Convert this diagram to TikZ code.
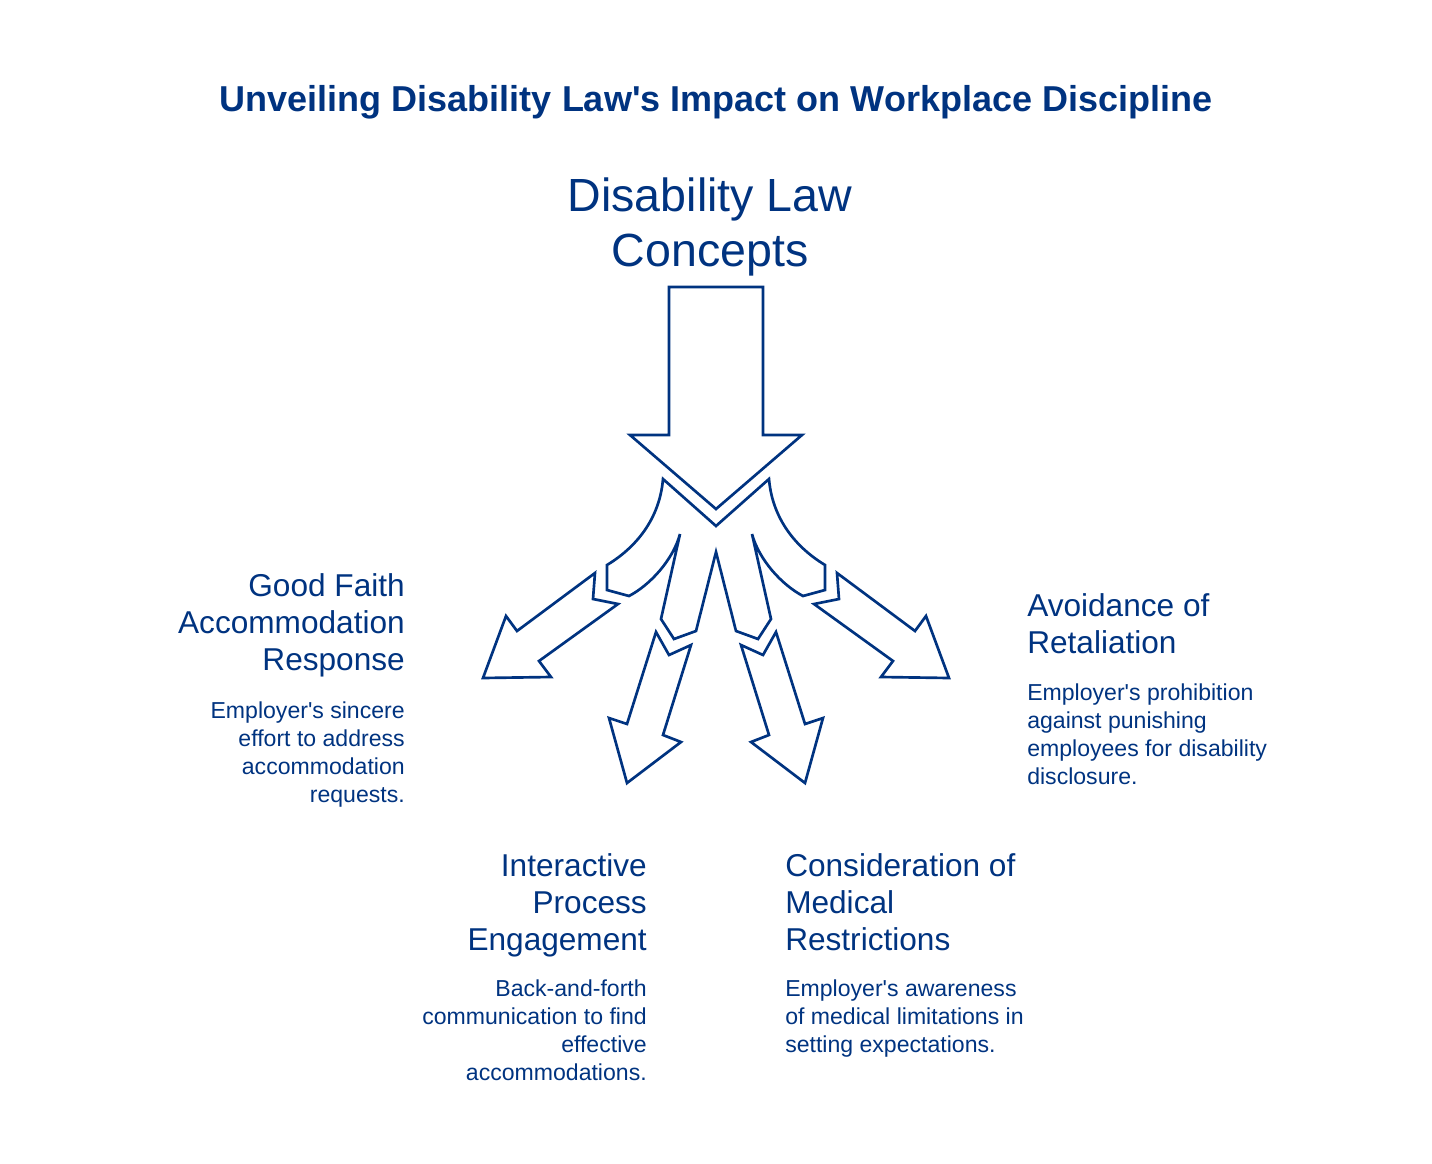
\documentclass[tikz,border=0pt]{standalone}
\usepackage{fontspec}
\setmainfont{Liberation Sans}
\usetikzlibrary{positioning}
\usetikzlibrary{calc}
\definecolor{lawblue}{RGB}{0,51,128}
\newcommand{\apos}{\textquotesingle}

\begin{document}
\begin{tikzpicture}[
    x=0.75pt, y=-0.75pt,
    shape line/.style={draw=lawblue, line width=2pt, line join=miter},
    heading/.style={inner sep=0, text=lawblue, font=\fontsize{23.7}{27.75}\selectfont},
    desc/.style={inner sep=0, text=lawblue, font=\fontsize{17.3}{21}\selectfont}
]
    \useasboundingbox (0,0) rectangle (1432,1164);

    % Titles
    \node[inner sep=0, anchor=base, text=lawblue, font=\fontsize{27}{32}\selectfont\bfseries] (T1) at (716,111) {Unveiling Disability Law\apos s Impact on Workplace Discipline};
    \node[inner sep=0, anchor=north, align=center, text=lawblue, font=\fontsize{34.9}{41.25}\selectfont] (T2) at (710,178) {Disability Law\\Concepts};

    % Top arrow
    \draw[shape line] (669,287) -- (763,287) -- (763,435) -- (802,435) -- (716,509) -- (630,435) -- (669,435) -- cycle;

    % Splitter
    \draw[shape line] (663,479) -- (716,526) -- (769,479)
        .. controls (772,515) and (792,545) .. (825,565) -- (825,590) -- (803,596)
        .. controls (782,585) and (759,560) .. (752,534) -- (771,619) -- (758,639) -- (736,631)
        -- (716,552) -- (696,631) -- (674,639) -- (661,619) -- (680,534)
        .. controls (673,560) and (650,585) .. (629,596) -- (607,590) -- (607,565)
        .. controls (640,545) and (660,515) .. (663,479) -- cycle;

    % Outgoing arrows
    \draw[shape line] (595,573) -- (593,599) -- (618,604) -- (539,661) -- (551,677) -- (483,678) -- (506,616) -- (517,631) -- cycle;
    \draw[shape line] (656,632) -- (669,655) -- (691,645) -- (663,735) -- (681,742) -- (627,783) -- (609,718) -- (627,724) -- cycle;
    \draw[shape line] (776,632) -- (763,655) -- (741,645) -- (769,735) -- (751,742) -- (805,783) -- (823,718) -- (805,724) -- cycle;
    \draw[shape line] (837,573) -- (839,599) -- (814,604) -- (893,661) -- (881,677) -- (949,678) -- (926,616) -- (915,631) -- cycle;

    % Good faith
    \node[heading, anchor=north east, align=right] (H1) at (405,573) {Good Faith\\Accommodation\\Response};
    \node[desc, anchor=north east, align=right] (D1) at (405,702) {Employer\apos s sincere\\effort to address\\accommodation\\requests.};

    % Interactive process
    \node[heading, anchor=north east, align=right] (H2) at (647,853) {Interactive\\Process\\Engagement};
    \node[desc, anchor=north east, align=right] (D2) at (647,980) {Back-and-forth\\communication to find\\effective\\accommodations.};

    % Medical restrictions
    \node[heading, anchor=north west, align=left] (H3) at (785,853) {Consideration of\\Medical\\Restrictions};
    \node[desc, anchor=north west, align=left] (D3) at (785,980) {Employer\apos s awareness\\of medical limitations in\\setting expectations.};

    % Retaliation
    \node[heading, anchor=north west, align=left] (H4) at (1027,593) {Avoidance of\\Retaliation};
    \node[desc, anchor=north west, align=left] (D4) at (1027,684) {Employer\apos s prohibition\\against punishing\\employees for disability\\disclosure.};
\end{tikzpicture}
\end{document}
